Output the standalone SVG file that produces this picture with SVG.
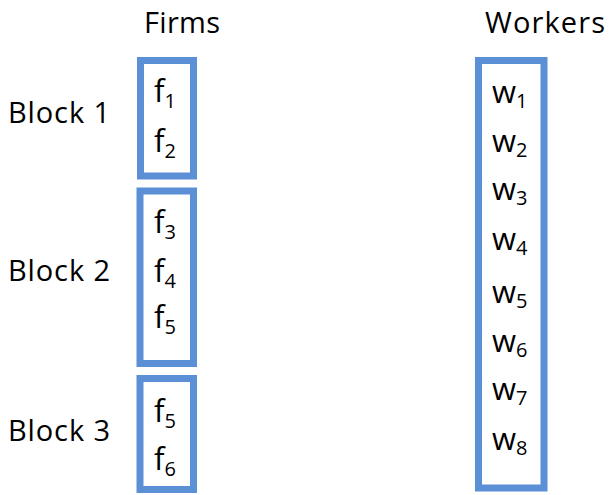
<svg xmlns="http://www.w3.org/2000/svg" width="609" height="495" viewBox="0 0 609 495">
  <style>
    .lbl { font-family: "Open Sans", "Liberation Sans", sans-serif; fill: #000; }
    .head { font-size: 29px; }
    .block { font-size: 29px; }
    .item { font-size: 31px; }
    .sub { font-size: 20px; }
    .box { fill: #fff; stroke: #5b8fd6; stroke-width: 7; }
  </style>
  <rect width="609" height="495" fill="#fff"/>

  <!-- column headers -->
  <text class="lbl head" x="144" y="33" textLength="76">Firms</text>
  <text class="lbl head" x="485" y="33" textLength="120">Workers</text>

  <!-- block labels -->
  <text class="lbl block" x="8" y="123" textLength="102">Block 1</text>
  <text class="lbl block" x="8" y="281" textLength="102">Block 2</text>
  <text class="lbl block" x="8" y="441" textLength="102">Block 3</text>

  <!-- firm blocks -->
  <g id="block1">
    <rect class="box" x="140.5" y="60.5" width="53" height="115.5"/>
    <text class="lbl item" x="154" y="102">f<tspan class="sub" dy="6">1</tspan></text>
    <text class="lbl item" x="154" y="152">f<tspan class="sub" dy="6">2</tspan></text>
  </g>
  <g id="block2">
    <rect class="box" x="140" y="191" width="53.5" height="172.5"/>
    <text class="lbl item" x="154" y="233">f<tspan class="sub" dy="6">3</tspan></text>
    <text class="lbl item" x="154" y="282">f<tspan class="sub" dy="6">4</tspan></text>
    <text class="lbl item" x="154" y="328">f<tspan class="sub" dy="6">5</tspan></text>
  </g>
  <g id="block3">
    <rect class="box" x="140" y="378.5" width="53.5" height="111"/>
    <text class="lbl item" x="154" y="422">f<tspan class="sub" dy="6">5</tspan></text>
    <text class="lbl item" x="154" y="470">f<tspan class="sub" dy="6">6</tspan></text>
  </g>

  <!-- workers column -->
  <g id="workers">
    <rect class="box" x="478.5" y="60.5" width="65.5" height="427.5"/>
    <text class="lbl item" x="492" y="103">w<tspan class="sub" dy="5">1</tspan></text>
    <text class="lbl item" x="492" y="152">w<tspan class="sub" dy="5">2</tspan></text>
    <text class="lbl item" x="492" y="200">w<tspan class="sub" dy="5">3</tspan></text>
    <text class="lbl item" x="492" y="250">w<tspan class="sub" dy="5">4</tspan></text>
    <text class="lbl item" x="492" y="303">w<tspan class="sub" dy="5">5</tspan></text>
    <text class="lbl item" x="492" y="352">w<tspan class="sub" dy="5">6</tspan></text>
    <text class="lbl item" x="492" y="400">w<tspan class="sub" dy="5">7</tspan></text>
    <text class="lbl item" x="492" y="450">w<tspan class="sub" dy="5">8</tspan></text>
  </g>

  <!-- no connectors are drawn between the columns -->
  <g id="connectors"/>
</svg>
